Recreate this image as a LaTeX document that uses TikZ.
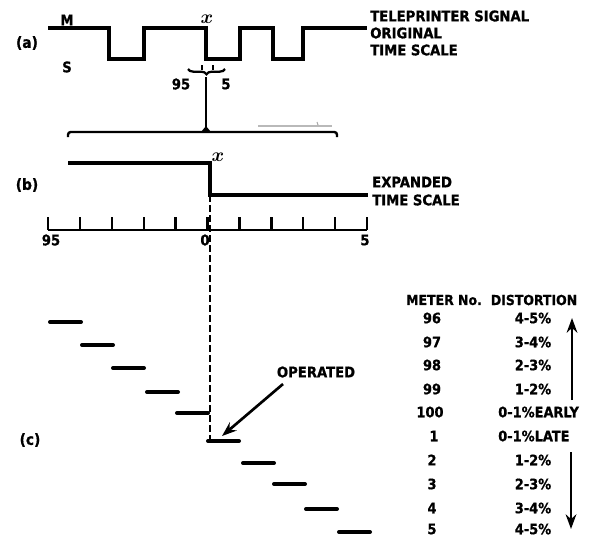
\documentclass[tikz,border=0pt]{standalone}
\usepackage{fontspec}
\setmainfont{DejaVu Sans Condensed}[BoldFeatures={FakeBold=0.8}]
\usetikzlibrary{arrows.meta,decorations.pathreplacing}
\begin{document}
\begin{tikzpicture}[x=0.75pt,y=-0.75pt,
  sig/.style={line width=2.6pt,line join=miter},
  thin/.style={line width=1.7pt},
  bar/.style={line width=3pt,line cap=round},
  lbl/.style={font=\bfseries\fontsize{11}{11}\selectfont,inner sep=0pt},
  tlbl/.style={font=\bfseries\fontsize{10.8}{11}\selectfont,inner sep=0pt},
  hlbl/.style={font=\bfseries\fontsize{10.4}{11}\selectfont,inner sep=0pt},
  part/.style={font=\bfseries\fontsize{11.5}{12}\selectfont,inner sep=0pt},
  xmark/.style={font=\fontsize{14}{14}\selectfont\boldmath,inner sep=0pt},
  dashline/.style={line width=1.6pt,dash pattern=on 5pt off 2.5pt},
  arr/.style={line width=2pt,-{Stealth[length=11pt,width=8pt]}}]
\useasboundingbox (0,0) rectangle (602,537);
% ---------- (a) original signal ----------
\node[part] (la) at (27,43) {(a)};
\node[lbl] (M) at (67,20) {M};
\node[lbl] (S) at (67,67) {S};
\draw[sig] (48,28) -- (109,28) -- (109,59) -- (144,59) -- (144,28) -- (206,28)
  -- (206,59) -- (240,59) -- (240,28) -- (273,28) -- (273,59) -- (303,59)
  -- (303,28) -- (367,28);
\node[xmark] (xa) at (207,19) {$x$};
\node[lbl,anchor=west] (t1) at (370,16) {TELEPRINTER SIGNAL};
\node[lbl,anchor=west] (t2) at (370,33) {ORIGINAL};
\node[lbl,anchor=west] (t3) at (370,50) {TIME SCALE};
% brace and stem
\draw[thin] (202,65) -- (202,70);
\draw[thin] (213,65) -- (213,70);
\draw[thin,decorate,decoration={brace,mirror,amplitude=4pt}] (188,69) -- (225,69);
\coordinate (stemtop) at (206,77);
\coordinate (stembot) at (206,131);
\draw[thin] (stemtop) -- (stembot);
\fill (201,132) -- (211,132) -- (206,126) -- cycle;
\node[lbl] (n95a) at (181,84) {95};
\node[lbl] (n5a) at (226,84) {5};
% expansion bracket
\draw[line width=1.8pt,rounded corners=2pt] (68,137) -- (68,132) -- (337,132) -- (337,137);
\draw[gray!55,line width=1pt] (258,126) -- (332,126);
\draw[gray!70,line width=0.8pt] (317,122) -- (318,125);
% ---------- (b) expanded ----------
\node[part] (lb) at (27,185) {(b)};
\draw[sig] (68,163) -- (210,163) -- (210,195) -- (368,195);
\node[xmark] (xb) at (218,157) {$x$};
\node[lbl,anchor=west] (e1) at (372,182) {EXPANDED};
\node[lbl,anchor=west] (e2) at (372,200) {TIME SCALE};
\draw[line width=2pt] (48,230) -- (367,230);
\foreach \i in {0,...,10} {
  \draw[line width=1.8pt] ({48+31.9*\i},230) -- ({48+31.9*\i},217);
}
\node[lbl] (s95) at (51,240) {95};
\node[lbl] (s0) at (205,240) {0};
\node[lbl] (s5) at (365,240) {5};
\coordinate (dtop) at (210,195);
\coordinate (dbot) at (210,441);
\draw[dashline] (dtop) -- (dbot);
% ---------- (c) meters ----------
\node[part] (lc) at (30,440) {(c)};
\foreach \x/\y in {50/322, 82/345, 113/368, 147/392, 177/413, 208/441, 243/463, 274/484, 306/509, 339/532} {
  \draw[bar] (\x,\y) -- ({\x+31},\y);
}
\node[lbl] (op) at (316,372) {OPERATED};
\coordinate (opend) at (222,436);
\draw[arr] (283,384) -- (opend);
% table
\node[hlbl] (hm) at (444,300) {METER No.};
\node[hlbl] (hd) at (534,300) {DISTORTION};
\foreach \n/\d/\y in {96/4-5\%/318, 97/3-4\%/342, 98/2-3\%/365, 99/1-2\%/389, 2/1-2\%/460, 3/2-3\%/484, 4/3-4\%/508, 5/4-5\%/529} {
  \node[tlbl] at (432,\y) {\n};
  \node[tlbl] at (533,\y) {\d};
}
\node[tlbl] (m100) at (430,412) {100};
\node[tlbl] (m1) at (434,436) {1};
\node[tlbl,anchor=west] (early) at (498,412) {0-1\%EARLY};
\node[tlbl,anchor=west] (late) at (498,436) {0-1\%LATE};
\coordinate (ua) at (572,400);
\coordinate (ub) at (572,318);
\coordinate (da) at (571,452);
\coordinate (db) at (571,529);
\draw[arr] (ua) -- (ub);
\draw[arr] (da) -- (db);
\end{tikzpicture}
\end{document}
